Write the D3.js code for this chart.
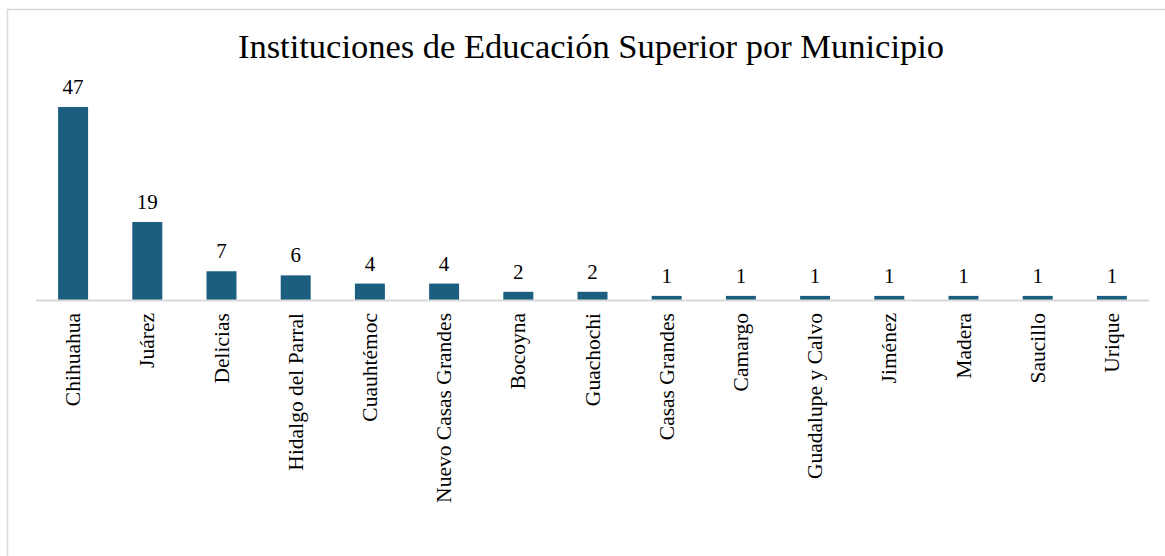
<!DOCTYPE html>
<html>
<head>
<meta charset="utf-8">
<script src="https://cdn.jsdelivr.net/npm/d3@7"></script>
<style>
  body { margin: 0; background: #fff; }
  text { font-family: "Liberation Serif", "Times New Roman", serif; fill: #000; }
</style>
</head>
<body>
<div id="chart"></div>
<script>
// municipalities and number of institutions
var municipios = ["Chihuahua", "Juárez", "Delicias", "Hidalgo del Parral", "Cuauhtémoc",
    "Nuevo Casas Grandes", "Bocoyna", "Guachochi", "Casas Grandes", "Camargo",
    "Guadalupe y Calvo", "Jiménez", "Madera", "Saucillo", "Urique"];
var instituciones = [47, 19, 7, 6, 4, 4, 2, 2, 1, 1, 1, 1, 1, 1, 1];

var titulo = "Instituciones de Educación Superior por Municipio";

var width = 1165, height = 556;
var margin = { top: 107, right: 16, bottom: 256, left: 36 };

var svg = d3.select("#chart").append("svg")
    .attr("width", width)
    .attr("height", height);

// chart frame
svg.append("rect")
    .attr("x", 7.5)
    .attr("y", 9.5)
    .attr("width", width)
    .attr("height", height)
    .attr("fill", "none")
    .attr("stroke", "#d9d9d9")
    .attr("stroke-width", 1.5);

var data = municipios.map(function(d, i) { return { name: d, value: instituciones[i] }; });

var x = d3.scaleBand()
    .domain(municipios)
    .range([margin.left, width - margin.right])
    .paddingInner(0.596)
    .paddingOuter(0.298);

var y = d3.scaleLinear()
    .domain([0, d3.max(instituciones)])
    .range([height - margin.bottom, margin.top]);

svg.append("text")
    .attr("x", 591)
    .attr("y", 58)
    .attr("text-anchor", "middle")
    .attr("font-size", "34.5px")
    .text(titulo);

svg.selectAll("rect.bar")
    .data(data)
    .enter()
    .append("rect")
    .attr("class", "bar")
    .attr("x", function(d) { return x(d.name); })
    .attr("y", function(d) { return y(d.value); })
    .attr("width", x.bandwidth())
    .attr("height", function(d) { return y(0) - y(d.value); })
    .attr("fill", "#1b5e80");

// baseline
svg.append("line")
    .attr("x1", margin.left)
    .attr("x2", width - margin.right)
    .attr("y1", y(0) + 0.5)
    .attr("y2", y(0) + 0.5)
    .attr("stroke", "#d9d9d9")
    .attr("stroke-width", 2);

svg.selectAll("text.value")
    .data(data)
    .enter()
    .append("text")
    .attr("class", "value")
    .attr("x", function(d) { return x(d.name) + x.bandwidth() / 2; })
    .attr("y", function(d) { return y(d.value) - 13; })
    .attr("text-anchor", "middle")
    .attr("font-size", "21px")
    .text(function(d) { return d.value; });

svg.selectAll("text.cat")
    .data(municipios)
    .enter()
    .append("text")
    .attr("class", "cat")
    .attr("transform", function(d) {
        return "translate(" + (x(d) + x.bandwidth() / 2 + 7) + "," + (y(0) + 13) + ") rotate(-90)";
    })
    .attr("text-anchor", "end")
    .attr("font-size", "21.5px")
    .text(function(d) { return d; });
</script>
</body>
</html>
